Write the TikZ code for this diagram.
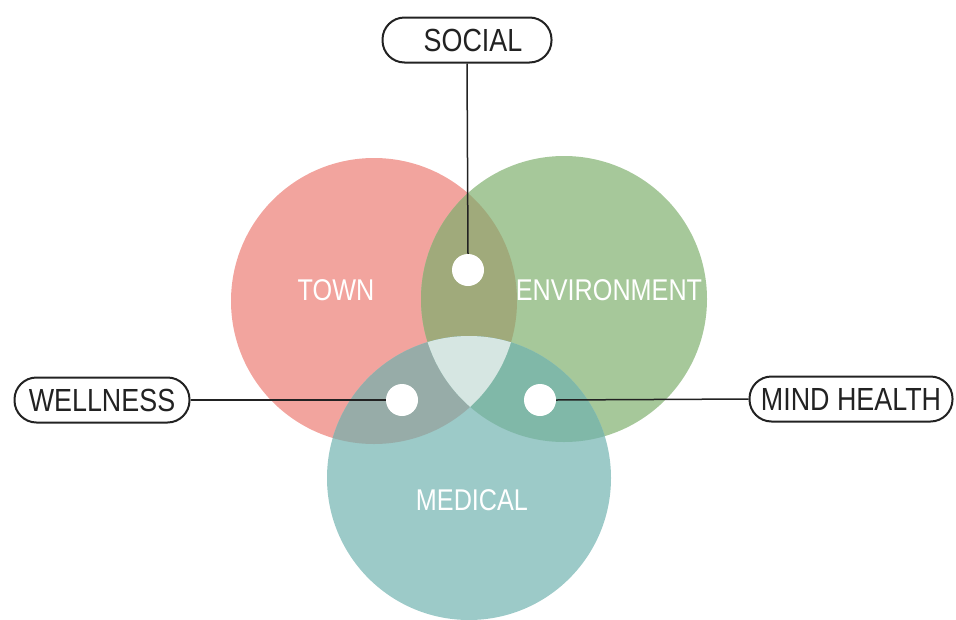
\documentclass[tikz,border=0pt]{standalone}
\usepackage{fontspec}
\setmainfont{Liberation Sans}[FakeStretch=0.84]
\usepackage{tikz}
\usetikzlibrary{positioning}

\definecolor{towncol}{HTML}{F2A49E}
\definecolor{envcol}{HTML}{A6C89A}
\definecolor{medcol}{HTML}{9CCAC8}
\definecolor{tecol}{HTML}{A0AA7B}
\definecolor{tmcol}{HTML}{97ACA8}
\definecolor{emcol}{HTML}{80B8A8}
\definecolor{allcol}{HTML}{D6E6E2}
\definecolor{inkcol}{HTML}{222222}

\begin{document}
\begin{tikzpicture}[x=1pt,y=-1pt,
                    font=\fontsize{30}{34}\selectfont,
                    tag/.style={draw=inkcol,line width=2pt,rounded corners=22pt,
                                minimum height=45pt,inner xsep=8pt,text=inkcol,
                                font=\fontsize{32}{36}\selectfont},
                    set name/.style={text=white},
                    dot/.style={circle,fill=white,minimum size=32pt,inner sep=0pt},
                    wire/.style={draw=inkcol,line width=1.5pt}]

  \useasboundingbox (0,0) rectangle (956,619);

  % the three sets
  \fill[towncol] (374,301) circle[radius=143pt];
  \fill[envcol]  (564,299) circle[radius=143pt];
  \fill[medcol]  (469,478) circle[radius=142pt];

  % overlaps
  \begin{scope}
    \clip (374,301) circle[radius=143pt];
    \fill[tecol] (564,299) circle[radius=143pt];
    \fill[tmcol] (469,478) circle[radius=142pt];
  \end{scope}
  \begin{scope}
    \clip (564,299) circle[radius=143pt];
    \fill[emcol] (469,478) circle[radius=142pt];
    \clip (374,301) circle[radius=143pt];
    \fill[allcol] (469,478) circle[radius=142pt];
  \end{scope}

  \node[set name] (town) at (336,290) {TOWN};
  \node[set name] (env)  at (609,290) {ENVIRONMENT};
  \node[set name] (med)  at (472,500) {MEDICAL};

  % intersections and their tags
  \node[dot] (socdot)  at (468,270) {};
  \node[dot] (welldot) at (402,400) {};
  \node[dot] (minddot) at (540,400) {};

  \node[tag,minimum width=169pt] (social)   at (467,40)  {\hspace{12pt}SOCIAL};
  \node[tag,minimum width=175pt] (wellness) at (102,400) {WELLNESS};
  \node[tag,minimum width=203pt] (mind)     at (851,399) {MIND HEALTH};

  \path[wire] (social.south) -- (socdot.north);
  \path[wire] (wellness.east) -- (welldot.west);
  \path[wire] (minddot.east) -- (mind.west);
\end{tikzpicture}
\end{document}
